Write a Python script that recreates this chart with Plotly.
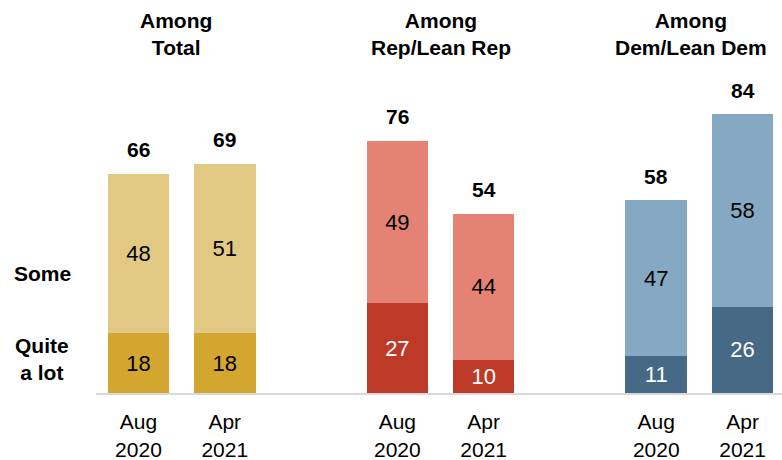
import plotly.graph_objects as go

# Survey waves shown for each partisan group
groups = ["Among<br>Total", "Among<br>Rep/Lean Rep", "Among<br>Dem/Lean Dem"]
waves = ["Aug<br>2020", "Apr<br>2021"]

# Bar slots: two waves per group, one empty slot between groups
positions = [0, 1, 3, 4, 6, 7]
tick_text = waves * 3

quite_a_lot = [18, 18, 27, 10, 11, 26]
some = [48, 51, 49, 44, 47, 58]
totals = [66, 69, 76, 54, 58, 84]

quite_colors = ["#D3A62F", "#D3A62F", "#BE3A28", "#BE3A28", "#466A85", "#466A85"]
some_colors = ["#E2C983", "#E2C983", "#E48373", "#E48373", "#85A8C3", "#85A8C3"]
quite_text_colors = ["black", "black", "white", "white", "white", "white"]

FONT = "Liberation Sans, Arial, sans-serif"
BAR_W = 0.713

fig = go.Figure()
fig.add_trace(go.Bar(
    x=positions, y=quite_a_lot, width=BAR_W,
    marker=dict(color=quite_colors, line=dict(width=0)),
    text=[str(v) for v in quite_a_lot], textposition="inside",
    insidetextanchor="middle", textangle=0,
    textfont=dict(family=FONT, size=22, color=quite_text_colors),
    hoverinfo="skip",
))
fig.add_trace(go.Bar(
    x=positions, y=some, width=BAR_W,
    marker=dict(color=some_colors, line=dict(width=0)),
    text=[str(v) for v in some], textposition="inside",
    insidetextanchor="middle", textangle=0,
    textfont=dict(family=FONT, size=22, color="black"),
    hoverinfo="skip",
))

annotations = []
# Net totals above each stacked bar
for p, t in zip(positions, totals):
    annotations.append(dict(
        x=p, y=t, xref="x", yref="y", text=f"<b>{t}</b>", showarrow=False,
        yanchor="middle", yshift=24,
        font=dict(family=FONT, size=21, color="black"),
    ))

# Group headings
title_x = [0.44, 3.5, 6.4]
for gx, g in zip(title_x, groups):
    annotations.append(dict(
        x=gx, y=1, xref="x", yref="paper", text=f"<b>{g}</b>", showarrow=False,
        yanchor="middle", yshift=27,
        font=dict(family=FONT, size=21, color="black"),
    ))

# Segment labels on the left
annotations.append(dict(
    x=-0.0787, y=1 - (273 - 61) / 332, xref="paper", yref="paper",
    text="<b>Some</b>", showarrow=False, xanchor="center", yanchor="middle",
    font=dict(family=FONT, size=21, color="black"),
))
annotations.append(dict(
    x=-0.0787, y=1 - (359 - 61) / 332, xref="paper", yref="paper",
    text="<b>Quite<br>a lot</b>", showarrow=False, xanchor="center", yanchor="middle",
    font=dict(family=FONT, size=21, color="black"),
))

fig.update_layout(
    barmode="stack",
    width=782, height=460,
    margin=dict(l=96, r=0, t=61, b=67),
    paper_bgcolor="white", plot_bgcolor="white",
    showlegend=False,
    annotations=annotations,
    uniformtext=dict(minsize=22, mode="show"),
    xaxis=dict(
        range=[-0.492, 7.457], tickvals=positions, ticktext=tick_text,
        showline=True, linecolor="#d9d9d9", linewidth=2,
        showgrid=False, zeroline=False, ticks="",
        ticklabelstandoff=9,
        tickfont=dict(family=FONT, size=21, color="black"),
        fixedrange=True,
    ),
    yaxis=dict(range=[0, 100], visible=False, fixedrange=True),
)

fig.write_html("out.html")
